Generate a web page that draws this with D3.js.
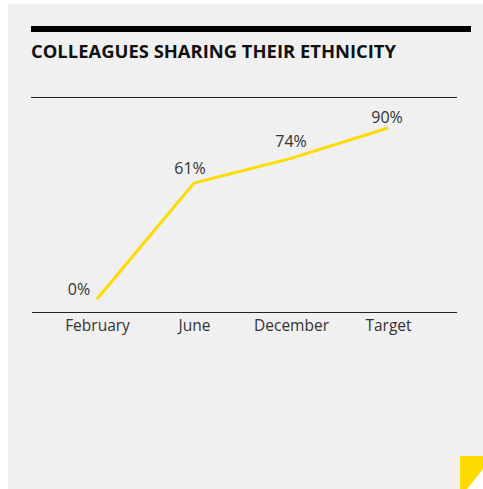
<!DOCTYPE html>
<html>
<head>
<meta charset="utf-8">
<script src="https://cdn.jsdelivr.net/npm/d3@7"></script>
<style>
  body { margin: 0; background: #fff; }
  svg { display: block; }
</style>
</head>
<body>
<script>
var PERIODOS = ["February", "June", "December", "Target"];
var VALORES = [0, 61, 74, 90];
var ETIQUETAS = ["0%", "61%", "74%", "90%"];
var TITULO = "COLLEAGUES SHARING THEIR ETHNICITY";

var W = 483, H = 489;
var AMARILLO = "#ffdb00";

var svg = d3.select("body").append("svg").attr("width", W).attr("height", H);

// panel gris con la esquina doblada
svg.append("path")
  .attr("d", "M8,4 H" + W + " V469 L467," + H + " H8 Z")
  .attr("fill", "#f0f0f0");
svg.append("path")
  .attr("d", "M460,456 H" + W + " V469 L467," + H + " H460 Z")
  .attr("fill", AMARILLO);

// barra negra y título
svg.append("rect").attr("x", 31).attr("y", 26).attr("width", 440).attr("height", 6).attr("fill", "#000");
svg.append("text").text(TITULO)
  .attr("x", 31).attr("y", 58)
  .attr("font-family", "'Open Sans', sans-serif")
  .attr("font-weight", "bold")
  .attr("font-size", 18)
  .attr("textLength", 365)
  .attr("lengthAdjust", "spacingAndGlyphs")
  .attr("fill", "#111");

// escalas
var x = d3.scalePoint().domain(PERIODOS).range([97, 388]);
var y = d3.scaleLinear().domain([0, 100]).range([299, 109]);

// líneas de arriba y abajo
svg.append("line").attr("x1", 31).attr("x2", 457).attr("y1", 97.5).attr("y2", 97.5).attr("stroke", "#222").attr("stroke-width", 1);

var eje = svg.append("g").attr("transform", "translate(0,312)")
  .call(d3.axisBottom(x).tickSize(0).tickPadding(8));
eje.select(".domain").remove();
eje.append("line").attr("x1", 32).attr("x2", 457).attr("y1", 0.5).attr("y2", 0.5).attr("stroke", "#222");
eje.selectAll("text")
  .attr("font-family", "'Open Sans', sans-serif")
  .attr("font-size", 15.5)
  .attr("fill", "#333");

// línea
var datos = PERIODOS.map(function (p, i) { return { p: p, v: VALORES[i], t: ETIQUETAS[i] }; });
var linea = d3.line().x(function (d) { return x(d.p); }).y(function (d) { return y(d.v); });
svg.append("path").datum(datos).attr("d", linea)
  .attr("fill", "none").attr("stroke", AMARILLO).attr("stroke-width", 3);

// etiquetas de valor (desplazamiento respecto del punto)
var dx = [-18, -4, 0, -1];
var dy = [-4, -9, -11, -5];
svg.selectAll("text.valor").data(datos).enter().append("text")
  .attr("class", "valor")
  .text(function (d) { return d.t; })
  .attr("x", function (d, i) { return x(d.p) + dx[i]; })
  .attr("y", function (d, i) { return y(d.v) + dy[i]; })
  .attr("text-anchor", "middle")
  .attr("font-family", "'Open Sans', sans-serif")
  .attr("font-size", 16)
  .attr("fill", "#333");
</script>
</body>
</html>
